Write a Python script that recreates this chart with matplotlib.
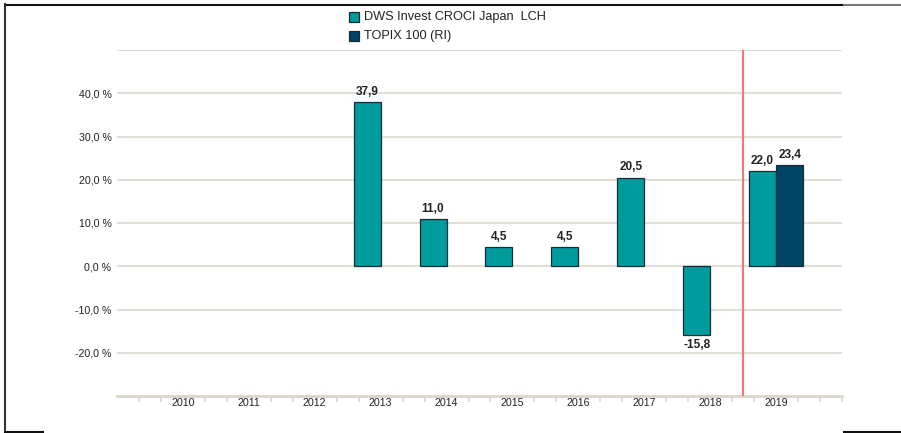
import matplotlib
matplotlib.use("Agg")
import matplotlib.pyplot as plt
from matplotlib.lines import Line2D
from matplotlib.patches import Rectangle
import numpy as np

plt.rcParams['font.family'] = ['Liberation Sans', 'DejaVu Sans']

years = ["2010", "2011", "2012", "2013", "2014", "2015", "2016", "2017", "2018", "2019"]
fund = [None, None, None, 37.9, 11.0, 4.5, 4.5, 20.5, -15.8, 22.0]
index = [None, None, None, None, None, None, None, None, None, 23.4]
series_names = ["DWS Invest CROCI Japan  LCH", "TOPIX 100 (RI)"]
ytick_vals = [40, 30, 20, 10, 0, -10, -20]
grid_vals = [50, 40, 30, 20, 10, 0, -10, -20]

c_fund = "#009b9c"
c_idx = "#004466"
c_edge = "#1c2b33"
c_grid = "#e2dfd8"
c_axis = "#d9d5cc"
c_red = "#f27878"

W, H = 901, 433
fig = plt.figure(figsize=(W / 100, H / 100), dpi=100)
ax = fig.add_axes([117 / W, (H - 396) / H, 725 / W, 346 / H])

x = np.arange(len(years))
bw = 0.41

for g in grid_vals:
    ax.axhline(g, color=c_grid, lw=1.5, zorder=0)

for i, v in enumerate(fund):
    if v is None:
        continue
    ax.bar(x[i] - bw / 2, v, width=bw, color=c_fund, edgecolor=c_edge, lw=0.9, zorder=2)
    lbl = f"{v:.1f}".replace(".", ",")
    ax.annotate(lbl, (x[i] - bw / 2, v), xytext=(0, 3 if v >= 0 else -3), textcoords="offset points",
                ha="center", va="bottom" if v >= 0 else "top", fontsize=8.5, fontweight="bold", color="#222222")
for i, v in enumerate(index):
    if v is None:
        continue
    ax.bar(x[i] + bw / 2, v, width=bw, color=c_idx, edgecolor=c_edge, lw=0.9, zorder=2)
    lbl = f"{v:.1f}".replace(".", ",")
    ax.annotate(lbl, (x[i] + bw / 2, v), xytext=(0, 3), textcoords="offset points",
                ha="center", va="bottom", fontsize=8.5, fontweight="bold", color="#222222")

ax.axvline(8.5, color=c_red, lw=1.5, zorder=3)

ax.set_xlim(-1, 10)
ax.set_ylim(-30, 50)

for s in ["top", "right", "left"]:
    ax.spines[s].set_visible(False)
ax.spines["bottom"].set_color(c_axis)
ax.spines["bottom"].set_linewidth(2)

ax.set_yticks(ytick_vals)
ax.set_yticklabels([f"{v:.1f}".replace(".", ",") + " %" for v in ytick_vals], fontsize=7.7, color="#222222")
ax.tick_params(axis="y", length=0, pad=4)

ax.set_xticks(x)
ax.set_xticklabels(years, fontsize=7.7, color="#222222")
ax.tick_params(axis="x", which="major", length=0, pad=1.5)
minor = []
for i in range(-1, 10):
    minor += [i + 1 / 3, i + 2 / 3]
minor += [10]
ax.set_xticks(minor, minor=True)
ax.tick_params(axis="x", which="minor", length=4, width=1.2, color=c_axis, direction="out")

# legend (manual)
for k, (name, col) in enumerate(zip(series_names, [c_fund, c_idx])):
    yc = 17 + k * 19
    fig.patches.append(Rectangle((349 / W, (H - yc - 5) / H), 10 / W, 10 / H, transform=fig.transFigure,
                                 facecolor=col, edgecolor=c_edge, lw=0.9))
    fig.text(364 / W, (H - yc) / H, name, fontsize=9.2, va="center", ha="left", color="#222222")

# frame pieces
def fl(x0, y0, x1, y1, color="#111111", lw=1.5):
    fig.add_artist(Line2D([x0 / W, x1 / W], [(H - y0) / H, (H - y1) / H], color=color, lw=lw,
                          transform=fig.transFigure))

fl(5, 4.5, 844, 4.5)
fl(844, 5, 900, 5, color="#777777")
fl(5, 4, 5, 432.5, color="#333333")
fl(5, 432, 43, 432)
fl(844, 432, 900, 432)

fig.savefig("out.png", dpi=100)
